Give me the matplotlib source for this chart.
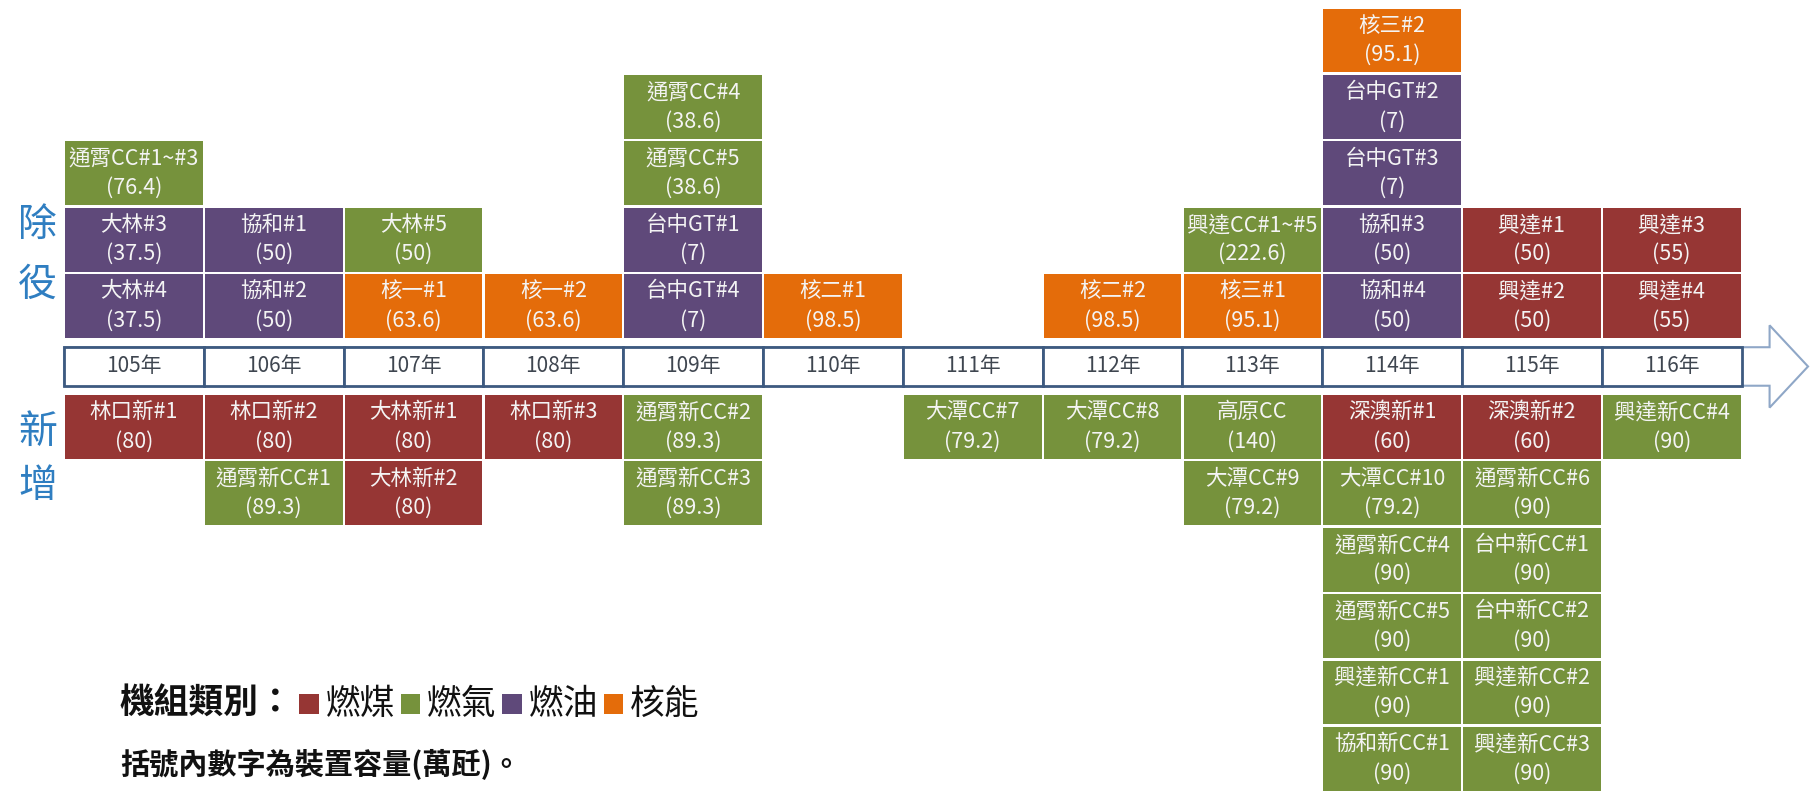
import matplotlib
matplotlib.use("Agg")
import matplotlib.pyplot as plt
from matplotlib.patches import Rectangle, Polygon
from matplotlib.offsetbox import TextArea, DrawingArea, HPacker, AnnotationBbox

plt.rcParams["font.family"] = ["Noto Sans CJK TC", "DejaVu Sans"]

# ---- data ------------------------------------------------------------------
YEARS = [105, 106, 107, 108, 109, 110, 111, 112, 113, 114, 115, 116]

# retirements, listed per year from the timeline outwards
RETIRE_YEAR = [105, 105, 105, 106, 106, 107, 107, 108,
               109, 109, 109, 109, 110, 112, 113, 113,
               114, 114, 114, 114, 114, 115, 115, 116, 116]
RETIRE_NAME = ["大林#4", "大林#3", "通霄CC#1~#3", "協和#2", "協和#1", "核一#1", "大林#5", "核一#2",
               "台中GT#4", "台中GT#1", "通霄CC#5", "通霄CC#4", "核二#1", "核二#2", "核三#1", "興達CC#1~#5",
               "協和#4", "協和#3", "台中GT#3", "台中GT#2", "核三#2", "興達#2", "興達#1", "興達#4", "興達#3"]
RETIRE_CAP = [37.5, 37.5, 76.4, 50, 50, 63.6, 50, 63.6,
              7, 7, 38.6, 38.6, 98.5, 98.5, 95.1, 222.6,
              50, 50, 7, 7, 95.1, 50, 50, 55, 55]
RETIRE_FUEL = ["oil", "oil", "gas", "oil", "oil", "nuclear", "gas", "nuclear",
               "oil", "oil", "gas", "gas", "nuclear", "nuclear", "nuclear", "gas",
               "oil", "oil", "oil", "oil", "nuclear", "coal", "coal", "coal", "coal"]

# new units, listed per year from the timeline outwards
NEW_YEAR = [105, 106, 106, 107, 107, 108, 109, 109, 111, 112, 113, 113,
            114, 114, 114, 114, 114, 114,
            115, 115, 115, 115, 115, 115, 116]
NEW_NAME = ["林口新#1", "林口新#2", "通霄新CC#1", "大林新#1", "大林新#2", "林口新#3",
            "通霄新CC#2", "通霄新CC#3", "大潭CC#7", "大潭CC#8", "高原CC", "大潭CC#9",
            "深澳新#1", "大潭CC#10", "通霄新CC#4", "通霄新CC#5", "興達新CC#1", "協和新CC#1",
            "深澳新#2", "通霄新CC#6", "台中新CC#1", "台中新CC#2", "興達新CC#2", "興達新CC#3",
            "興達新CC#4"]
NEW_CAP = [80, 80, 89.3, 80, 80, 80, 89.3, 89.3, 79.2, 79.2, 140, 79.2,
           60, 79.2, 90, 90, 90, 90,
           60, 90, 90, 90, 90, 90, 90]
NEW_FUEL = ["coal", "coal", "gas", "coal", "coal", "coal", "gas", "gas", "gas", "gas", "gas", "gas",
            "coal", "gas", "gas", "gas", "gas", "gas",
            "coal", "gas", "gas", "gas", "gas", "gas", "gas"]

FUELS = ["coal", "gas", "oil", "nuclear"]
FUEL_LABELS = ["燃煤", "燃氣", "燃油", "核能"]
FUEL_COLORS = {"coal": "#963634", "gas": "#76923C", "oil": "#5F497A", "nuclear": "#E46C0A"}

# ---- layout (x: one unit per year column, y: one unit per stacked row) -----
OFFSET = 0.43      # distance from timeline centre to first row
BOX_H = 0.96
GAP_X = 0.008
BAND_H = 0.29
TXT = "#F4F4F4"
BOX_FS = 15.5

fig = plt.figure(figsize=(18.16, 8), dpi=100)
ax = fig.add_axes([0, 0, 1, 1])
ax.set_xlim(-0.458, 12.532)
ax.set_ylim(-6.53, 5.52)
ax.axis("off")


def draw_stack(years, names, caps, fuels, direction):
    level = {}
    for yr, name, cap, fuel in zip(years, names, caps, fuels):
        i = YEARS.index(yr)
        k = level.get(yr, 0)
        level[yr] = k + 1
        if direction > 0:
            y0 = OFFSET + k
        else:
            y0 = -OFFSET - k - BOX_H
        ax.add_patch(Rectangle((i + GAP_X, y0), 1 - 2 * GAP_X, BOX_H,
                               facecolor=FUEL_COLORS[fuel], edgecolor="none"))
        yc = y0 + BOX_H / 2
        ax.text(i + 0.5, yc + 0.22, name, ha="center", va="center", fontsize=BOX_FS, color=TXT)
        ax.text(i + 0.5, yc - 0.22, f"({cap:g})", ha="center", va="center", fontsize=BOX_FS, color=TXT)


# arrow outline behind the year band
arrow = Polygon([(0, -BAND_H), (12.20, -BAND_H), (12.20, -0.62), (12.475, 0.0),
                 (12.20, 0.62), (12.20, BAND_H), (0, BAND_H)],
                closed=True, facecolor="white", edgecolor="#8FA7C7", linewidth=1.5)
ax.add_patch(arrow)

for i, yr in enumerate(YEARS):
    ax.add_patch(Rectangle((i, -BAND_H), 1, 2 * BAND_H, facecolor="white",
                           edgecolor="#3D5A80", linewidth=2))
    ax.text(i + 0.5, 0, f"{yr}年", ha="center", va="center", fontsize=15, color="#3F4650")

draw_stack(RETIRE_YEAR, RETIRE_NAME, RETIRE_CAP, RETIRE_FUEL, +1)
draw_stack(NEW_YEAR, NEW_NAME, NEW_CAP, NEW_FUEL, -1)

# side labels
for ch, y in [("除", 2.13), ("役", 1.23), ("新", -0.99), ("增", -1.80)]:
    ax.text(-0.19, y, ch, ha="center", va="center", fontsize=28, color="#2F7EC1")

# legend line
parts = [TextArea("機組類別：", textprops=dict(fontsize=25, fontweight="bold", color="#111111"))]
for fuel, label in zip(FUELS, FUEL_LABELS):
    sq = DrawingArea(15, 15, 0, 0)
    sq.add_artist(Rectangle((0, 0), 14, 14, facecolor=FUEL_COLORS[fuel], edgecolor="none"))
    parts.append(sq)
    parts.append(TextArea(label, textprops=dict(fontsize=25, color="#111111")))
legend = HPacker(children=parts, align="baseline", pad=0, sep=4)
ax.add_artist(AnnotationBbox(legend, (0.40, -5.08), xycoords="data", box_alignment=(0, 0.5),
                             frameon=False, pad=0))

ax.text(0.40, -5.99, "括號內數字為裝置容量(萬瓩)。", ha="left", va="center",
        fontsize=21, fontweight="bold", color="#111111")

fig.savefig("out.png", dpi=100)
